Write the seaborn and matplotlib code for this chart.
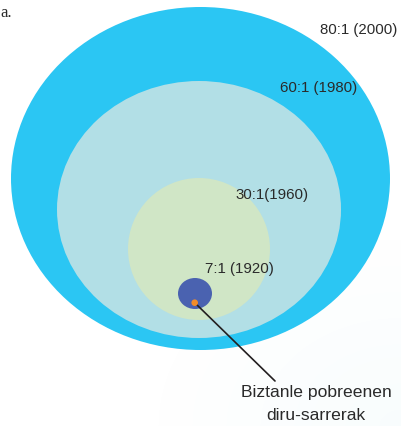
import matplotlib
matplotlib.use("Agg")
import matplotlib.pyplot as plt
from matplotlib.patches import Ellipse, Circle
import numpy as np
import seaborn as sns

# Income ratio between richest and poorest, by year (outermost first)
ratios = ["80:1", "60:1", "30:1", "7:1"]
years = ["(2000)", "(1980)", "(1960)", "(1920)"]
separators = [" ", " ", "", " "]
fill_colors = ["#2bc6f3", "#b2dfe6", "#d0e6c6", "#4a62b0"]

sns.set_theme(style="white")
plt.rcParams["font.family"] = ["Liberation Sans", "DejaVu Sans"]

W, H = 401, 426
fig = plt.figure(figsize=(W / 100, H / 100), dpi=100)
ax = fig.add_axes([0, 0, 1, 1])
ax.set_xlim(0, W)
ax.set_ylim(H, 0)
ax.axis("off")

# faint cyan haze in the lower-right corner
yy, xx = np.mgrid[0:H, 0:W]
d = np.hypot((xx - W) / 260.0, (yy - H) / 200.0)
haze = np.clip(1 - d, 0, 1) * 0.06
rgba = np.zeros((H, W, 4))
rgba[..., 0] = 0.55
rgba[..., 1] = 0.85
rgba[..., 2] = 0.9
rgba[..., 3] = haze
ax.imshow(rgba, extent=(0, W, H, 0), zorder=0)

# nested ellipses: (center x, center y, width, height)
shapes = [
    (200.5, 178.5, 379, 343),
    (199, 209.5, 284, 257),
    (199, 249, 142, 142),
    (195, 293.5, 34, 31),
]
for (cx, cy, w, h), col in zip(shapes, fill_colors):
    ax.add_patch(Ellipse((cx, cy), w, h, facecolor=col, edgecolor="none", zorder=1))

label_pos = [(320, 30), (280, 88), (235, 195), (205, 269)]
for r, y, s, (lx, ly) in zip(ratios, years, separators, label_pos):
    ax.text(lx, ly, f"{r}{s}{y}", fontsize=10.8, color="#2a2a2a",
            va="center", ha="left", zorder=3)

# poorest population marker and callout
ax.add_patch(Circle((194.7, 302.7), 3.3, facecolor="#f28c28", edgecolor="none", zorder=3))
ax.plot([194.7, 275], [302.7, 381], color="#231f20", lw=1.2, zorder=2)
callout_font = ["Liberation Sans", "DejaVu Sans"]
ax.text(316, 392, "Biztanle pobreenen", fontsize=12.6, color="#2a2a2a",
        family=callout_font, ha="center", va="center", zorder=3)
ax.text(316, 415, "diru-sarrerak", fontsize=12.6, color="#2a2a2a",
        family=callout_font, ha="center", va="center", zorder=3)

ax.text(0, 13, "a.", fontsize=12, color="#2a2a2a", family=["Liberation Serif", "DejaVu Serif"],
        ha="left", va="center", zorder=3)

fig.savefig("out.png", dpi=100)
